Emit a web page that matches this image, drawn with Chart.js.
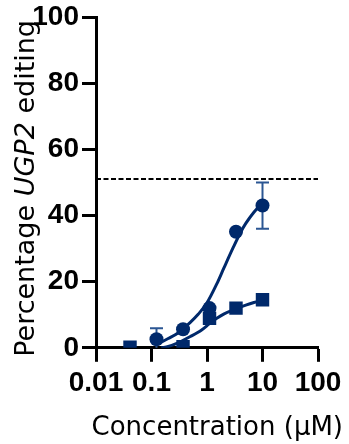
<!DOCTYPE html>
<html>
<head>
<meta charset="utf-8">
<script src="https://cdn.jsdelivr.net/npm/chart.js@4/dist/chart.umd.min.js"></script>
<style>
html,body{margin:0;padding:0;background:#fff;}
canvas{display:block;}
</style>
</head>
<body>
<canvas id="c" width="349" height="444"></canvas>
<script>
// ---- data ----
const xTickValues = [0.01, 0.1, 1, 10, 100];
const xTickLabels = ['0.01', '0.1', '1', '10', '100'];
const yTickValues = [0, 20, 40, 60, 80, 100];

const circleX = [0.123, 0.37, 1.11, 3.33, 10];
const circleY = [2.6, 5.6, 12.0, 35.1, 43.0];
const circleErr = [3.3, 0, 0, 0, 7.0];

const squareX = [0.041, 0.37, 1.11, 3.33, 10];
const squareY = [0.2, 0.3, 8.9, 12.0, 14.5];

const circleFitX = [0.123, 0.2, 0.3, 0.5, 0.7, 1, 1.5, 2, 3, 4, 5, 7, 10];
const circleFitY = [1.0, 2.8, 4.5, 7.7, 10.2, 13.6, 19.3, 24.0, 30.5, 34.8, 37.6, 41.0, 43.7];

const squareFitX = [0.15, 0.2, 0.3, 0.5, 0.8, 1.11, 1.5, 2, 3, 5, 7, 10];
const squareFitY = [0, 0.4, 1.5, 3.4, 5.4, 7.3, 8.9, 10.2, 11.5, 12.9, 13.7, 14.4];

const thresholdX = [0.01, 100];
const thresholdY = [51, 51];

const xTitle = 'Concentration (\u03BCM)';
const yTitleParts = [['Percentage ', false], ['UGP2', true], [' editing', false]];

// ---- styling ----
const navy = '#00296b';
const errColor = '#2b5693';
const tickFont = {family: 'Liberation Sans', size: 28, weight: 'bold'};

const pts = (xs, ys) => xs.map((x, i) => ({x: x, y: ys[i]}));
const clipBottom = {left: 30, top: 30, right: 30, bottom: 0};

const errorBars = {
  id: 'errorBars',
  beforeDatasetsDraw(chart) {
    const {ctx, chartArea, scales} = chart;
    const x = scales.x, y = scales.y;
    ctx.save();
    ctx.beginPath();
    ctx.rect(chartArea.left, chartArea.top - 30, chartArea.width, chartArea.height + 30);
    ctx.clip();
    ctx.strokeStyle = errColor;
    ctx.lineWidth = 2;
    circleX.forEach((xv, i) => {
      const e = circleErr[i];
      if (!e) return;
      const px = x.getPixelForValue(xv);
      const top = y.getPixelForValue(circleY[i] + e);
      const bot = y.getPixelForValue(circleY[i] - e);
      const half = 6.5;
      ctx.beginPath();
      ctx.moveTo(px, top); ctx.lineTo(px, bot);
      ctx.moveTo(px - half, top); ctx.lineTo(px + half, top);
      ctx.moveTo(px - half, bot); ctx.lineTo(px + half, bot);
      ctx.stroke();
    });
    ctx.restore();
  }
};

const yTitlePlugin = {
  id: 'yTitle',
  afterDraw(chart) {
    const {ctx, chartArea} = chart;
    ctx.save();
    const cy = (chartArea.top + chartArea.bottom) / 2 + 6;
    ctx.translate(33.5, cy);
    ctx.rotate(-Math.PI / 2);
    ctx.textBaseline = 'alphabetic';
    ctx.textAlign = 'left';
    ctx.fillStyle = '#000';
    const fonts = yTitleParts.map(p => (p[1] ? 'italic ' : '') + '27px "DejaVu Sans"');
    let total = 0;
    yTitleParts.forEach((p, i) => { ctx.font = fonts[i]; total += ctx.measureText(p[0]).width; });
    let pos = -total / 2;
    yTitleParts.forEach((p, i) => {
      ctx.font = fonts[i];
      ctx.fillText(p[0], pos, 0);
      pos += ctx.measureText(p[0]).width;
    });
    ctx.restore();
  }
};

new Chart(document.getElementById('c'), {
  type: 'line',
  data: {
    datasets: [
      {
        label: 'circles', data: pts(circleX, circleY), showLine: false,
        pointStyle: 'circle', pointRadius: 7, pointBackgroundColor: navy,
        pointBorderColor: navy, pointBorderWidth: 0, clip: clipBottom
      },
      {
        label: 'squares', data: pts(squareX, squareY), showLine: false,
        pointStyle: 'rect', pointRadius: 9.5, pointBackgroundColor: navy,
        pointBorderColor: navy, pointBorderWidth: 0, clip: clipBottom
      },
      {
        label: 'circle fit', data: pts(circleFitX, circleFitY), borderColor: navy,
        borderWidth: 3, pointRadius: 0, cubicInterpolationMode: 'monotone', clip: clipBottom
      },
      {
        label: 'square fit', data: pts(squareFitX, squareFitY), borderColor: navy,
        borderWidth: 3, pointRadius: 0, cubicInterpolationMode: 'monotone', clip: clipBottom
      },
      {
        label: 'threshold', data: pts(thresholdX, thresholdY), borderColor: '#000',
        borderWidth: 2, borderDash: [5, 2.5], pointRadius: 0
      }
    ]
  },
  options: {
    responsive: false,
    animation: false,
    events: [],
    devicePixelRatio: 1,
    layout: {padding: {left: 0, right: 6, top: 0, bottom: 0}},
    plugins: {
      legend: {display: false},
      tooltip: {enabled: false},
      title: {
        display: true, text: xTitle, position: 'bottom', align: 'end',
        font: {family: 'DejaVu Sans', size: 26, weight: 'normal'}, color: '#000',
        padding: {top: 5, bottom: 0}
      }
    },
    scales: {
      x: {
        type: 'logarithmic', min: 0.01, max: 100,
        afterBuildTicks: s => { s.ticks = xTickValues.map(v => ({value: v})); },
        afterFit: s => { s.height = 60; s.paddingRight = 31; s.paddingLeft = 0; },
        grid: {drawOnChartArea: false, drawTicks: true, tickLength: 14, tickWidth: 3, tickColor: '#000'},
        border: {display: true, color: '#000', width: 3},
        ticks: {
          callback: (v, i) => xTickLabels[i], font: tickFont, color: '#000',
          padding: 5, maxRotation: 0, autoSkip: false
        }
      },
      y: {
        type: 'linear', min: 0, max: 100,
        afterBuildTicks: s => { s.ticks = yTickValues.map(v => ({value: v})); },
        afterFit: s => { s.width = 96; s.paddingTop = 17; },
        grid: {drawOnChartArea: false, drawTicks: true, tickLength: 14, tickWidth: 3, tickColor: '#000'},
        border: {display: true, color: '#000', width: 3},
        ticks: {font: tickFont, color: '#000', padding: 3, autoSkip: false}
      }
    }
  },
  plugins: [errorBars, yTitlePlugin]
});
</script>
</body>
</html>
